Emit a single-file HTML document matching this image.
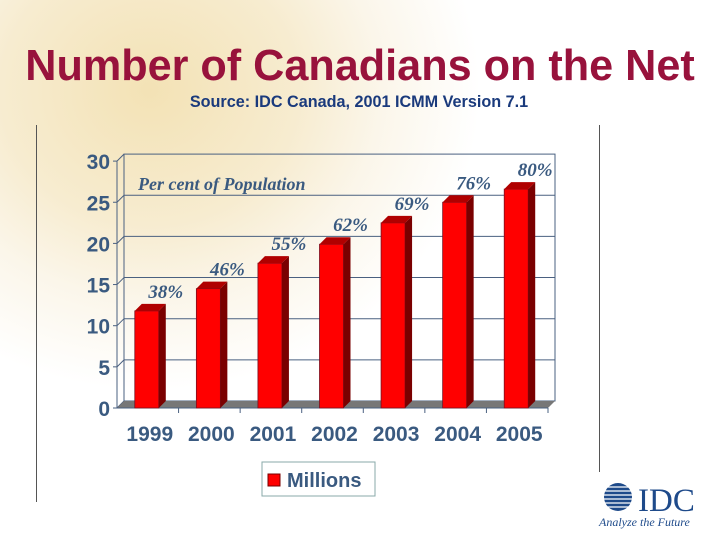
<!DOCTYPE html>
<html><head><meta charset="utf-8"><style>
body{margin:0;width:720px;height:540px;overflow:hidden;font-family:"Liberation Sans",sans-serif;
background:radial-gradient(ellipse 330px 300px at 150px 90px,#f3e2b5 0%,#f7ecd0 45%,#fbf6ea 70%,#fff 100%);}
svg{position:absolute;left:0;top:0}
</style></head><body>
<svg width="720" height="540">
<text x="360" y="80" text-anchor="middle" font-size="43.2" font-weight="bold" fill="#98123c">Number of Canadians on the Net</text>
<text x="359" y="107" text-anchor="middle" font-size="16.2" font-weight="bold" fill="#1a3a7c">Source: IDC Canada, 2001 ICMM Version 7.1</text>
<line x1="36.5" y1="125" x2="36.5" y2="502" stroke="#555"/>
<line x1="599.5" y1="125" x2="599.5" y2="472" stroke="#555"/>
<g id="plot"></g>
<g>
<rect x="262" y="462" width="113" height="34" fill="#fff" stroke="#8aa" />
<rect x="268" y="474" width="12" height="12" fill="#f00" stroke="#700"/>
<text x="287" y="487" font-size="20" font-weight="bold" fill="#3a5a80">Millions</text>
</g>
<g>
<circle cx="618" cy="497" r="14" fill="#1e4a8a"/>
<g stroke="#fff" stroke-width="1.3"><line x1="600" y1="487" x2="636" y2="487"/><line x1="600" y1="491" x2="636" y2="491"/><line x1="600" y1="495" x2="636" y2="495"/><line x1="600" y1="499" x2="636" y2="499"/><line x1="600" y1="503" x2="636" y2="503"/><line x1="600" y1="507" x2="636" y2="507"/></g>
<text x="638" y="511" font-family="Liberation Serif,serif" font-size="33" fill="#1e4a8a">IDC</text>
<text x="599" y="526" font-family="Liberation Serif,serif" font-style="italic" font-size="12" fill="#1e4a8a">Analyze the Future</text>
</g>
</svg>
<script>
const categories=["1999","2000","2001","2002","2003","2004","2005"];
const millions=[11.8,14.5,17.6,19.9,22.5,25.0,26.6];
const percents=["38%","46%","55%","62%","69%","76%","80%"];
const yTicks=[0,5,10,15,20,25,30];
const NS="http://www.w3.org/2000/svg";
const g=document.getElementById('plot');
const X0=117,X1=548,Y0=408,PX=8.23,DX=7,DY=7;
const y=v=>Y0-v*PX;
const band=(X1-X0)/categories.length;
const xc=i=>X0+band*(i+0.5);
function mk(t,a,p){const e=document.createElementNS(NS,t);for(const k in a)e.setAttribute(k,a[k]);(p||g).appendChild(e);return e;}
let w=mk('rect',{x:X0+DX,y:y(30)-DY,width:X1-X0,height:30*PX,fill:'none',stroke:'#4a6080'});

yTicks.forEach(t=>{
 if(t>0&&t<30){const l=mk('line',{x1:X0+DX,x2:X1+DX,y1:y(t)-DY,y2:y(t)-DY,stroke:'#4a6080','stroke-width':1});
 }
 mk('line',{x1:X0,x2:X0+DX,y1:y(t),y2:y(t)-DY,stroke:'#4a6080'});
 mk('line',{x1:X0-4,x2:X0,y1:y(t),y2:y(t),stroke:'#4a6080'});
 const tx=mk('text',{x:X0-7,y:y(t)+8,'text-anchor':'end','font-size':21,'font-weight':'bold',fill:'#3a5a80'});tx.textContent=t;
 
});
let fl=mk('polygon',{points:`${X0},${Y0} ${X1},${Y0} ${X1+DX},${Y0-DY} ${X0+DX},${Y0-DY}`,fill:'#777'});

mk('line',{x1:X0,x2:X0,y1:y(30),y2:Y0,stroke:'#4a6080'});
mk('line',{x1:X0,x2:X1,y1:Y0,y2:Y0,stroke:'#4a6080'});
const pc=mk('text',{x:138,y:190,'font-family':'Liberation Serif,serif','font-style':'italic','font-weight':'bold','font-size':18,fill:'#3a5a80'});pc.textContent='Per cent of Population';

categories.forEach((c,i)=>{
 const cx=xc(i),bw=24,x=cx-bw/2-1,top=y(millions[i]);
 const b=mk('g',{});
 
 mk('rect',{x:x,y:top,width:bw,height:Y0-top,fill:'#f00',stroke:'#7a1020','stroke-width':0.8},b);
 mk('polygon',{points:`${x+bw},${top} ${x+bw+DX},${top-DY} ${x+bw+DX},${Y0-DY} ${x+bw},${Y0}`,fill:'#7a0000'},b);
 mk('polygon',{points:`${x},${top} ${x+DX},${top-DY} ${x+bw+DX},${top-DY} ${x+bw},${top}`,fill:'#b00000'},b);
 mk('line',{x1:X0+band*(i+1),x2:X0+band*(i+1),y1:Y0,y2:Y0+5,stroke:'#4a6080'});
 const lt=mk('text',{x:cx+2,y:441,'text-anchor':'middle','font-size':21,'font-weight':'bold',fill:'#3a5a80'});lt.textContent=c;
 
 const pt=mk('text',{x:cx+18,y:top-13,'text-anchor':'middle','font-family':'Liberation Serif,serif','font-style':'italic','font-weight':'bold','font-size':19,fill:'#3a5a80'});pt.textContent=percents[i];
 
});
</script>
</body></html>
